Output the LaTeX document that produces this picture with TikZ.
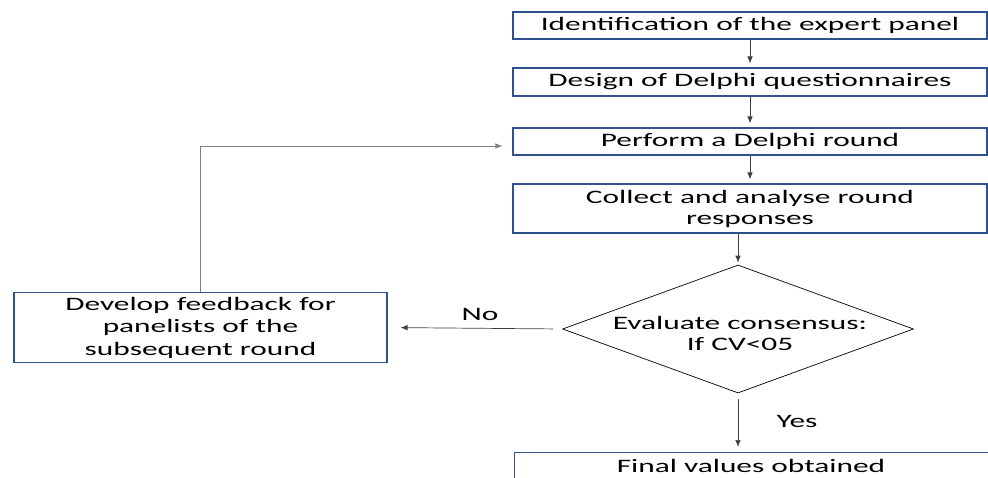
\documentclass[tikz,border=0pt]{standalone}
\usepackage{fontspec}
\setmainfont{Carlito}[FakeStretch=1.65]
\usetikzlibrary{shapes.geometric,arrows.meta}
\definecolor{boxblue}{RGB}{47,82,143}
\definecolor{linegrey}{RGB}{64,64,64}
\definecolor{loopgrey}{RGB}{128,128,128}
\begin{document}
\begin{tikzpicture}[x=1pt,y=-1pt,
  every node/.style={font=\fontsize{19}{21}\selectfont, text=black},
  stepbox/.style={draw=boxblue, line width=1.1pt, fill=white, inner sep=0pt, align=center},
  conn/.style={draw=linegrey, line width=0.7pt, -{Latex[length=7pt,width=5.5pt]}},
  lbl/.style={inner sep=0pt}
]
\useasboundingbox (0,0) rectangle (988,477);
\clip (0,0) rectangle (988,477);

\node[stepbox, minimum width=474pt, minimum height=27pt] (b1) at (750,25.5) {Identification of the expert panel};
\node[stepbox, minimum width=474pt, minimum height=28pt] (b2) at (750,82) {Design of Delphi questionnaires};
\node[stepbox, minimum width=474pt, minimum height=27pt] (b3) at (750,141.5) {Perform a Delphi round};
\node[stepbox, minimum width=474pt, minimum height=49pt] (b4) at (750,208.5) {Collect and analyse round\\responses};
\node[draw=black, line width=0.7pt, diamond, minimum width=351pt, minimum height=128pt, inner sep=0pt] (dia) at (738,329) {};
\node[lbl, align=center] (diat) at (740,333) {Evaluate consensus:\\If CV<05};
\node[stepbox, minimum width=373pt, minimum height=70pt, font=\fontsize{19}{22.5}\selectfont] (fb) at (200.5,327.5) {Develop feedback for\\panelists of the\\subsequent round};
\node[stepbox, minimum width=475pt, minimum height=30pt, anchor=north west] (fin) at (514,452) {};
\node[lbl] (fint) at (751,466) {Final values obtained};

\node[lbl] (no) at (480,314) {No};
\node[lbl] (yes) at (797,421) {Yes};

\coordinate (loopend) at ([yshift=-4.5pt]b3.west);
\draw[conn, shorten >=4pt] (b1) -- (b2);
\draw[conn, shorten >=4pt] (b2) -- (b3);
\draw[conn, shorten >=4pt] (b3) -- (b4);
\draw[conn, shorten >=2pt] (b4.south -| dia.north) -- (dia.north);
\draw[conn, shorten <=9pt, shorten >=13pt] (dia.west) -- (fb.east);
\draw[conn, shorten <=6pt, shorten >=5pt] (dia.south) -- (dia.south |- fin.north);
\draw[conn, draw=loopgrey, shorten >=10pt] (fb.north) |- (loopend);
\end{tikzpicture}
\end{document}
